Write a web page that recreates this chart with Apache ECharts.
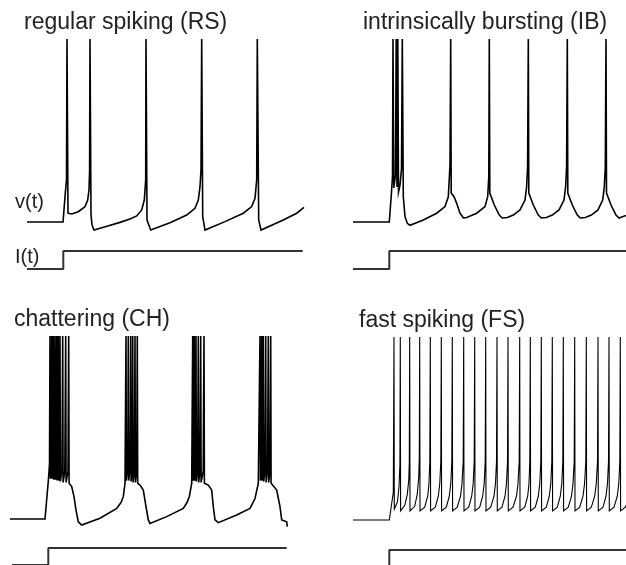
<!DOCTYPE html>
<html>
<head>
<meta charset="utf-8">
<title>Izhikevich neuron firing patterns</title>
<script src="https://cdn.jsdelivr.net/npm/echarts/dist/echarts.min.js"></script>
<style>
  html, body { margin: 0; padding: 0; background: #fff; }
  #chart { width: 626px; height: 565px; }
</style>
</head>
<body>
<div id="chart"></div>
<script>
// panel titles
const panelTitles = ["regular spiking (RS)", "intrinsically bursting (IB)", "chattering (CH)", "fast spiking (FS)"];

// membrane potential v(t), [time ms, mV]
const rsV = [
  [0, -70], [36, -70], [38.5, -53], [39.5, -47], [40, 30],
  [41, -65.2], [44.7, -65.6], [51.3, -64.4], [58, -61.6], [60.7, -58], [62, -52.5], [62.6, -42], [63, 30],
  [64, -66], [65, -71.6], [67, -74.4], [80, -72.3], [93, -70.2], [103, -68.3], [109.7, -66.7], [114.7, -63.4], [117.3, -58], [118.7, -47], [119, 30],
  [120, -68.9], [123.7, -74.4], [143, -70.4], [159.7, -66.2], [168, -62.5], [171.3, -58], [173, -50.7], [174, -41.6], [174.7, 30],
  [175.7, -67.1], [178, -74.4], [198, -69.8], [216.3, -65.2], [224.7, -61.6], [228, -57], [229.7, -47], [230.3, 30],
  [231.7, -68.9], [234, -74.4], [256.3, -68.9], [269.7, -65.2], [277, -62]
];

const ibV = [
  [0, -70], [36.3, -70], [38.5, -53.6], [39.5, -45], [40, 30],
  [40.8, -51.4], [42.5, -44.3], [43.2, 30],
  [44, -50.9], [44.8, 30],
  [45.5, -53.6], [47, -49.8], [48.5, -41], [49.3, 30],
  [50.3, -56.2], [52, -67.1], [54.3, -70.7], [57, -71.8], [70.3, -68.9], [83.7, -65.2], [92, -61.6], [95.3, -56.2], [97, -38.9], [97.7, 30],
  [98.2, -54.2], [101, -56.2], [103.7, -59.8], [107, -65.2], [110.3, -67.7], [113.7, -67.5], [123.7, -65.2], [132, -61.6], [134.7, -56.2], [135.8, -45], [136.3, 30],
  [136.8, -54.2], [138.3, -55.2], [141.3, -60.7], [146.3, -66.2], [149.3, -67.8], [154.3, -67.5], [160.3, -66.2], [167, -63.4], [172, -58], [173.6, -50.9], [174.6, -40], [175.3, 30],
  [175.8, -54.2], [177.3, -55.2], [180.3, -60.7], [185.3, -66.2], [188.3, -67.8], [193.3, -67.5], [199.3, -66.2], [206, -63.4], [211, -58], [212.6, -50.9], [213.6, -40], [214.3, 30],
  [214.8, -54.2], [216.3, -55.2], [219.3, -60.7], [224.3, -66.2], [227.3, -67.8], [232.3, -67.5], [238.3, -66.2], [245, -63.4], [249.7, -58], [251.3, -50.9], [252.3, -40], [253, 30],
  [253.5, -54.2], [255, -55.2], [258, -60.7], [263, -66.2], [266, -67.8], [273, -66.4]
];

const chV = [
  [0, -70], [35, -70], [38.5, -48], [39.5, -40], [40, 30],
  [40.4, -48], [41.3, -40], [41.7, 30],
  [42.1, -48], [43, -40], [43.3, 30],
  [43.7, -48.5], [44.6, -41], [45, 30],
  [45.4, -48.5], [46.3, -41], [46.7, 30],
  [47.1, -49], [48, -41], [48.3, 30],
  [48.7, -49], [49.6, -42], [50, 30],
  [50.4, -49.5], [52, -43], [52.7, 30],
  [53.1, -50], [54.8, -44], [55.7, 30],
  [56.1, -50], [58, -44], [58.7, 30],
  [59.1, -50.5], [61.7, -52.3], [64, -57.8], [66, -65.1], [68.3, -71.5], [71.7, -73.3], [90, -69.6], [106.7, -64.2], [111, -61], [113.3, -57.8], [115, -50.5],
  [116, 30], [116.4, -49], [117.8, -42], [118.3, 30], [118.7, -49], [120.1, -42], [120.7, 30], [121.1, -49.5], [122.2, -43], [122.7, 30],
  [123.1, -50], [124.4, -43], [125, 30], [125.4, -50], [126.7, -44], [127.3, 30],
  [127.7, -50.5], [130, -51.5], [133.3, -54.2], [136, -63.3], [138.3, -70.5], [140, -72.4], [156.7, -68.7], [173.3, -64.2], [177, -61], [179.3, -57.8], [181.7, -50.5],
  [182.7, 30], [183.1, -49], [184, -42], [184.3, 30], [184.7, -49], [185.6, -42], [186, 30], [186.4, -49.5], [187.7, -43], [188.3, 30],
  [188.7, -50], [190, -43], [190.7, 30], [191.1, -50], [193.2, -44], [194, 30],
  [194.4, -50.5], [198.3, -51.5], [201.7, -54.2], [203.3, -63.3], [205, -70.5], [208.3, -72], [226.7, -67.8], [240, -64.2], [245, -58.8], [248.3, -50.5],
  [250, 30], [250.4, -49], [251.3, -42], [251.7, 30], [252.1, -49], [253, -42], [253.3, 30], [253.7, -49.5], [255, -43], [255.7, 30],
  [256.1, -50], [257.6, -43], [258.3, 30], [258.7, -50], [260, -44], [260.7, 30],
  [261.1, -50.5], [262.7, -51], [266.7, -54.2], [270, -63.3], [271.7, -70.5], [273.3, -71.5], [276.7, -71.5], [277.3, -74.2]
];

const fsV = [
  [0, -70], [36.3, -70], [40.3, -55], [41, 30],
  [41.3, -64], [42.5, -64.5], [44.5, -60], [46, -52], [46.9, -40], [47.3, 30],
  [47.6, -65], [49.3, -65.5], [51.8, -62], [54.3, -56], [55.8, -48], [56.3, -38], [56.7, 30],
  [57, -65], [58.7, -65.8], [61.7, -62.5], [64.2, -56], [65.7, -47], [66.3, -36], [66.7, 30],
  [67, -65], [68.7, -65.8], [71.7, -63], [74.7, -57], [76, -50], [76.8, -38], [77.3, 30],
  [77.6, -65], [79.3, -65.8], [82.3, -63], [85.3, -57], [86.8, -50], [87.8, -38], [88.3, 30],
  [88.6, -65], [90.3, -65.8], [93.3, -63], [96.3, -57], [97.8, -50], [98.8, -38], [99.3, 30],
  [99.6, -65], [101.3, -65.8], [104.3, -63], [107.5, -57], [109, -50], [110.2, -38], [110.7, 30],
  [111, -65], [112.7, -65.8], [115.7, -63], [118.7, -57], [120.2, -50], [121.2, -38], [121.7, 30],
  [122, -65], [123.7, -65.8], [126.7, -63], [129.7, -57], [131.2, -50], [132.2, -38], [132.7, 30],
  [133, -65], [134.7, -65.8], [137.7, -63], [141, -57], [142.5, -50], [143.5, -38], [144, 30],
  [144.3, -65], [146, -65.8], [149, -63], [152, -57], [153.5, -50], [154.5, -38], [155, 30],
  [155.3, -65], [157, -65.8], [160, -63], [163.5, -57], [165, -50], [166.2, -38], [166.7, 30],
  [167, -65], [168.7, -65.8], [171.7, -63], [174.7, -57], [176, -50], [176.8, -38], [177.3, 30],
  [177.6, -65], [179.3, -65.8], [182.3, -63], [185.3, -57], [186.8, -50], [187.8, -38], [188.3, 30],
  [188.6, -65], [190.3, -65.8], [193.3, -63], [196.3, -57], [197.8, -50], [198.8, -38], [199.3, 30],
  [199.6, -65], [201.3, -65.8], [204.3, -63], [207.3, -57], [208.8, -50], [209.8, -38], [210.3, 30],
  [210.6, -65], [212.3, -65.8], [215.3, -63], [218.5, -57], [220, -50], [221.2, -38], [221.7, 30],
  [222, -65], [223.7, -65.8], [226.7, -63], [230, -57], [231.6, -50], [232.8, -38], [233.3, 30],
  [233.6, -65], [235.3, -65.8], [238.3, -63], [241.7, -57], [243.3, -50], [244.5, -38], [245, 30],
  [245.3, -65], [247, -65.8], [250, -63], [253, -57], [254.5, -50], [255.5, -38], [256, 30],
  [256.3, -65], [258, -65.8], [261, -63], [264.3, -57], [265.8, -50], [266.8, -38], [267.3, 30],
  [267.6, -65], [269.3, -65.8], [272.3, -63], [273, -62]
];

// injected current I(t), step from 0 to 1
const rsI = [[0, 0], [36.3, 0], [36.3, 1], [275.7, 1]];
const ibI = [[0, 0], [36.3, 0], [36.3, 1], [273, 1]];
const chI = [[2, 0], [38.3, 0], [38.3, 1], [276.7, 1]];
const fsI = [[0, 0], [36.3, 0], [36.3, 1], [273, 1]];

const chart = echarts.init(document.getElementById("chart"));

// px layout of the four panels (1 ms = 1 px, 1 mV = 1.83 px)
// the FS current axis starts higher so its low level falls below the picture edge
const panels = [
  { v: rsV, i: rsI, left: 27, xMax: 277, vTop: 39, iTop: 251, iH: 18, iMin: 0, lw: 1.6 },
  { v: ibV, i: ibI, left: 353, xMax: 273, vTop: 39, iTop: 251, iH: 18, iMin: 0, lw: 1.6 },
  { v: chV, i: chI, left: 10, xMax: 277.3, vTop: 336, iTop: 548, iH: 17, iMin: 0, lw: 1.6 },
  { v: fsV, i: fsI, left: 353, xMax: 273, vTop: 337, iTop: 550, iH: 14, iMin: 0.4, lw: 1.1 },
];

const grid = [], xAxis = [], yAxis = [], series = [];
panels.forEach((p, k) => {
  grid.push({ left: p.left, top: p.vTop, width: p.xMax, height: 110 * 1.83 });
  grid.push({ left: p.left, top: p.iTop, width: p.xMax, height: p.iH });
  [0, 1].forEach((j) => {
    xAxis.push({ type: "value", gridIndex: 2 * k + j, min: 0, max: p.xMax, show: false });
  });
  yAxis.push({ type: "value", gridIndex: 2 * k, min: -80, max: 30, show: false });
  yAxis.push({ type: "value", gridIndex: 2 * k + 1, min: p.iMin, max: 1, show: false });
  series.push({
    type: "line", xAxisIndex: 2 * k, yAxisIndex: 2 * k, data: p.v,
    showSymbol: false, clip: false,
    lineStyle: { color: "#000", width: p.lw, join: "miter" },
  });
  series.push({
    type: "line", xAxisIndex: 2 * k + 1, yAxisIndex: 2 * k + 1, data: p.i,
    showSymbol: false, clip: false,
    lineStyle: { color: "#333", width: 2 },
  });
});

const font = '"Liberation Sans", Arial, sans-serif';
const titlePos = [[24, 23], [363, 23], [14, 320], [359, 321]];
const graphic = panelTitles.map((t, k) => ({
  type: "text", x: titlePos[k][0], y: titlePos[k][1],
  style: { text: t, fontSize: 23, fontFamily: font, fill: "#222", verticalAlign: "middle" },
}));
graphic.push({ type: "text", x: 15, y: 202, style: { text: "v(t)", fontSize: 20, fontFamily: font, fill: "#222", verticalAlign: "middle" } });
graphic.push({ type: "text", x: 15, y: 257, style: { text: "I(t)", fontSize: 20, fontFamily: font, fill: "#222", verticalAlign: "middle" } });

chart.setOption({
  animation: false,
  backgroundColor: "#fff",
  grid: grid,
  xAxis: xAxis,
  yAxis: yAxis,
  series: series,
  graphic: graphic,
});
</script>
</body>
</html>
